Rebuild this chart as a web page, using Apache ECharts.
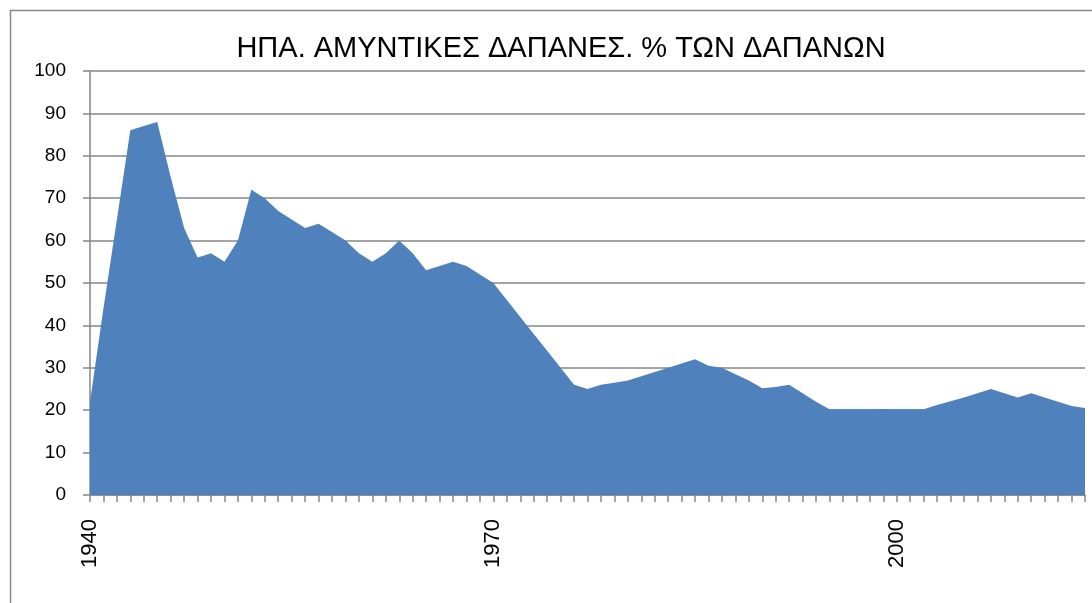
<!DOCTYPE html>
<html>
<head>
<meta charset="utf-8">
<script src="https://cdn.jsdelivr.net/npm/echarts@6/dist/echarts.min.js"></script>
<style>
  html, body { margin: 0; padding: 0; background: #fff; }
  #def_graph { width: 1092px; height: 603px; }
</style>
</head>
<body>
<div id="def_graph"></div>
<script>
// έτη (κατηγορίες)
const years = [
  '1940','1941','1942','1943','1944','1945','1946','1947','1948','1949',
  '1950','1951','1952','1953','1954','1955','1956','1957','1958','1959',
  '1960','1961','1962','1963','1964','1965','1966','1967','1968','1969',
  '1970','1971','1972','1973','1974','1975','1976','1977','1978','1979',
  '1980','1981','1982','1983','1984','1985','1986','1987','1988','1989',
  '1990','1991','1992','1993','1994','1995','1996','1997','1998','1999',
  '2000','2001','2002','2003','2004','2005','2006','2007','2008','2009',
  '2010','2011','2012','2013','2014'
]
// αμυντικές δαπάνες, % των δαπανών
const defence_pct = [
  22, 44, 65, 86, 87, 88, 75, 63, 56, 57,
  55, 60, 72, 70, 67, 65, 63, 64, 62, 60,
  57, 55, 57, 60, 57, 53, 54, 55, 54, 52,
  50, 46, 42, 38, 34, 30, 26, 25, 26, 26.5,
  27, 28, 29, 30, 31, 32, 30.5, 30, 28.5, 27,
  25.2, 25.5, 26, 24, 22, 20.2, 20.2, 20.2, 20.2, 20.3,
  20.2, 20.2, 20.2, 21.2, 22.1, 23, 24, 25, 24, 23,
  24, 23, 22, 21, 20.5
]
const title_text = 'ΗΠΑ. ΑΜΥΝΤΙΚΕΣ ΔΑΠΑΝΕΣ. % ΤΩΝ ΔΑΠΑΝΩΝ'

let my_graph = echarts.init(document.getElementById('def_graph'))
my_graph.setOption({
    animation: false,
    textStyle: { fontFamily: 'Liberation Sans', color: '#000' },
    graphic: [{
        type: 'rect',
        left: 8, top: 8,
        shape: { width: 1100, height: 610 },
        style: { fill: 'none', stroke: '#888', lineWidth: 1.5 },
        silent: true
    }],
    title: {
        text: title_text,
        left: 556,
        textAlign: 'center',
        top: 29,
        textStyle: {
            fontFamily: 'Liberation Sans',
            fontSize: 29,
            fontWeight: 'normal',
            color: '#000'
        }
    },
    grid: { left: 90, right: 7, top: 71, bottom: 108 },
    xAxis: {
        type: 'category',
        boundaryGap: false,
        data: years,
        axisLine: { lineStyle: { color: '#868686', width: 1.5 } },
        axisTick: { show: true, interval: 0, length: 7, lineStyle: { color: '#868686', width: 1.5 } },
        axisLabel: {
            interval: 29,
            rotate: 90,
            margin: 24,
            fontSize: 22,
            color: '#000'
        },
        splitLine: { show: false }
    },
    yAxis: {
        type: 'value',
        min: 0,
        max: 100,
        interval: 10,
        axisLine: { show: true, lineStyle: { color: '#868686', width: 1.5 } },
        axisTick: { show: true, length: 7, lineStyle: { color: '#868686', width: 1.5 } },
        axisLabel: { fontSize: 19, margin: 24, color: '#000' },
        splitLine: { lineStyle: { color: '#868686', width: 1.5 } }
    },
    series: [{
        name: 'ΗΠΑ',
        type: 'line',
        data: defence_pct,
        showSymbol: false,
        lineStyle: { width: 0, color: '#4F81BD' },
        areaStyle: { color: '#4F81BD', opacity: 1 }
    }]
})
</script>
</body>
</html>
